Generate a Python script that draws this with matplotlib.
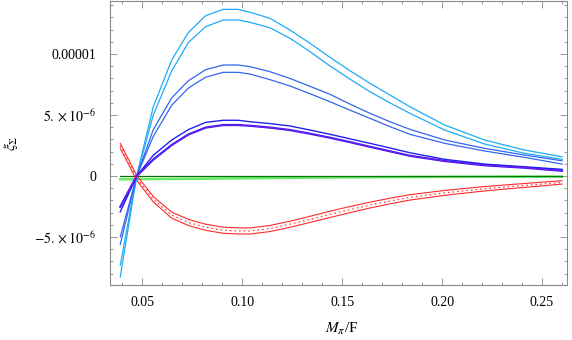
import matplotlib
matplotlib.use("Agg")
import matplotlib.pyplot as plt
from matplotlib.ticker import MultipleLocator, FixedLocator, FixedFormatter
import numpy as np

plt.rcParams['font.family'] = ['Liberation Serif', 'DejaVu Serif']
plt.rcParams['mathtext.fontset'] = 'stix'

# x grid (M_pi / F)
x = [0.039, 0.0472, 0.0555, 0.0647, 0.073, 0.0817, 0.0905, 0.098, 0.1039, 0.1139,
     0.1239, 0.1339, 0.1439, 0.1539, 0.1639, 0.1739, 0.1839, 0.2013, 0.2213, 0.2413, 0.26]

# values in units of 1e-6
light_outer = [-8.25, 0.0, 5.68, 9.5, 11.75, 13.14, 13.66, 13.66, 13.42, 12.93,
               11.97, 10.88, 9.73, 8.63, 7.6, 6.64, 5.68, 4.18, 2.95, 2.13, 1.58]
light_inner = [-7.3, 0.0, 5.0, 8.6, 10.93, 12.24, 12.79, 12.79, 12.6, 12.15,
               11.29, 10.2, 9.02, 7.95, 6.91, 6.0, 5.14, 3.77, 2.62, 1.86, 1.37]
mid_outer = [-5.6, 0.0, 3.8, 6.4, 7.8, 8.72, 9.1, 9.1, 8.96, 8.55,
             8.0, 7.35, 6.7, 5.9, 5.14, 4.45, 3.83, 2.95, 2.27, 1.72, 1.25]
mid_inner = [-4.98, 0.0, 3.25, 5.8, 7.2, 8.1, 8.5, 8.5, 8.36, 7.9,
             7.38, 6.75, 6.09, 5.4, 4.73, 4.05, 3.42, 2.68, 2.05, 1.53, 0.98]
dark_outer = [-2.93, 0.0, 1.7, 2.95, 3.8, 4.4, 4.57, 4.57, 4.45, 4.3,
              4.1, 3.77, 3.42, 3.05, 2.68, 2.3, 1.91, 1.37, 0.98, 0.76, 0.55]
dark_inner = [-2.52, 0.0, 1.35, 2.54, 3.4, 3.97, 4.18, 4.18, 4.12, 3.97,
              3.77, 3.47, 3.14, 2.78, 2.4, 2.03, 1.66, 1.23, 0.88, 0.68, 0.43]
red_upper = [2.68, 0.05, -1.68, -2.95, -3.55, -3.95, -4.19, -4.25, -4.25, -4.05,
             -3.7, -3.3, -2.88, -2.5, -2.14, -1.82, -1.53, -1.18, -0.86, -0.61, -0.38]
red_lower = [2.27, -0.35, -2.12, -3.45, -4.05, -4.45, -4.69, -4.75, -4.75, -4.55,
             -4.2, -3.8, -3.4, -3.0, -2.62, -2.28, -1.97, -1.58, -1.22, -0.93, -0.66]
green_light = [-0.27, -0.26, -0.25, -0.24, -0.23, -0.22, -0.2, -0.19, -0.18, -0.16,
               -0.15, -0.13, -0.12, -0.11, -0.1, -0.09, -0.08, -0.07, -0.06, -0.05, -0.05]
green_dark = [0.0] * len(x)

ytick_vals = [-5e-6, 0.0, 5e-6, 1e-5]
ytick_labels = [r'$-5.\times10^{-6}$', '0', r'$5.\times10^{-6}$', '0.00001']
xtick_vals = [0.05, 0.10, 0.15, 0.20, 0.25]
xtick_labels = ['0.05', '0.10', '0.15', '0.20', '0.25']

s = 1e-6
X = np.array(x)
def arr(v):
    return np.array(v) * s

fig = plt.figure(figsize=(5.72, 3.40), dpi=100)
ax = fig.add_axes([110/572, 55/340, (567.3-110)/572, (339.3-55)/340])

c_light = '#20AAF5'
c_mid = '#3366EE'
c_dark = '#2222EE'
c_purple = '#A010F0'
c_red = '#FF2A2A'

ax.plot(X, arr(green_light), color='#66EE66', lw=1.8, zorder=2)
ax.plot(X, arr(green_dark), color='#007700', lw=0.9, zorder=3)

ax.plot(X, arr(red_upper), color=c_red, lw=0.8, zorder=4)
ax.plot(X, arr(red_lower), color=c_red, lw=0.8, zorder=4)
ax.plot(X, (arr(red_upper) + arr(red_lower)) / 2, color=c_red, lw=0.9,
        linestyle=(0, (1.2, 2.5)), zorder=4)

ax.plot(X, arr(light_outer), color=c_light, lw=0.9, zorder=5)
ax.plot(X, arr(light_inner), color=c_light, lw=0.9, zorder=5)
ax.plot(X, arr(mid_outer), color=c_mid, lw=0.9, zorder=5)
ax.plot(X, arr(mid_inner), color=c_mid, lw=0.9, zorder=5)
ax.plot(X, arr(dark_outer), color=c_dark, lw=1.0, zorder=5)
ax.plot(X, arr(dark_inner), color=c_dark, lw=1.6, zorder=5)
ax.plot(X, arr(dark_inner), color=c_purple, lw=0.6, zorder=6)

ax.set_xlim(0.03385, 0.26265)
ax.set_ylim(-8.93e-6, 14.37e-6)

ax.xaxis.set_major_locator(FixedLocator(xtick_vals))
ax.xaxis.set_major_formatter(FixedFormatter(xtick_labels))
ax.xaxis.set_minor_locator(MultipleLocator(0.01))
ax.yaxis.set_major_locator(FixedLocator(ytick_vals))
ax.yaxis.set_major_formatter(FixedFormatter(ytick_labels))
ax.yaxis.set_minor_locator(MultipleLocator(1e-6))

ax.tick_params(which='both', direction='in', top=True, right=True, color='#888888',
               width=0.6, labelsize=10)
ax.tick_params(which='major', length=4.8)
ax.tick_params(which='minor', length=2.4)
ax.tick_params(axis='y', pad=10)
ax.tick_params(axis='x', pad=8)
for sp in ax.spines.values():
    sp.set_color('#888888')
    sp.set_linewidth(0.8)

ax.set_xlabel(r'$M_\pi$/F', fontsize=11)
ax.xaxis.set_label_coords(0.507, -0.125)
ax.set_ylabel(r'$\xi_\Sigma$', fontsize=11)
ax.yaxis.set_label_coords(-0.197, 0.5)

fig.savefig('out.png', dpi=100)
